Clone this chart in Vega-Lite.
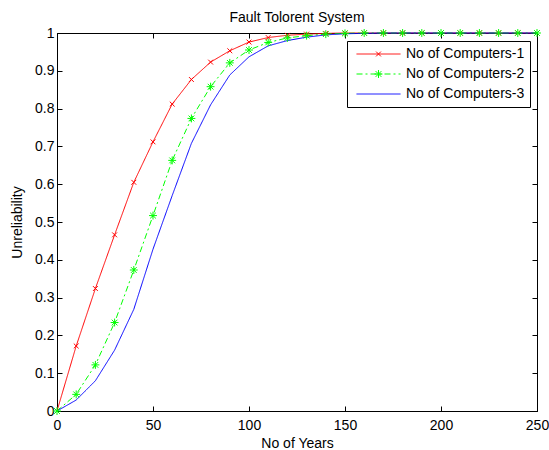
{
  "$schema": "https://vega.github.io/schema/vega-lite/v6.json",
  "width": 480,
  "height": 378,
  "autosize": {"type": "none"},
  "padding": {"left": 57, "top": 33, "right": 12, "bottom": 39},
  "background": "white",
  "config": {
    "font": "Liberation Sans",
    "view": {"stroke": "black", "strokeWidth": 1},
    "axis": {
      "grid": false,
      "domainColor": "black",
      "domainWidth": 1,
      "tickColor": "black",
      "tickWidth": 1,
      "tickSize": -5,
      "labelColor": "black",
      "labelFont": "Liberation Sans",
      "labelFontSize": 14,
      "labelFlush": false,
      "labelOverlap": false,
      "titleColor": "black",
      "titleFont": "Liberation Sans",
      "titleFontSize": 14,
      "titleFontWeight": "normal"
    }
  },
  "title": {
    "text": "Fault Tolorent System",
    "fontSize": 14,
    "fontWeight": "normal",
    "font": "Liberation Sans",
    "color": "black",
    "frame": "group",
    "offset": 1
  },
  "data": {
    "values": [
      {"year": 0, "unreliability": 0, "series": "No of Computers-1"},
      {"year": 10, "unreliability": 0.172, "series": "No of Computers-1"},
      {"year": 20, "unreliability": 0.324, "series": "No of Computers-1"},
      {"year": 30, "unreliability": 0.466, "series": "No of Computers-1"},
      {"year": 40, "unreliability": 0.605, "series": "No of Computers-1"},
      {"year": 50, "unreliability": 0.712, "series": "No of Computers-1"},
      {"year": 60, "unreliability": 0.812, "series": "No of Computers-1"},
      {"year": 70, "unreliability": 0.877, "series": "No of Computers-1"},
      {"year": 80, "unreliability": 0.923, "series": "No of Computers-1"},
      {"year": 90, "unreliability": 0.953, "series": "No of Computers-1"},
      {"year": 100, "unreliability": 0.976, "series": "No of Computers-1"},
      {"year": 110, "unreliability": 0.988, "series": "No of Computers-1"},
      {"year": 120, "unreliability": 0.994, "series": "No of Computers-1"},
      {"year": 130, "unreliability": 0.997, "series": "No of Computers-1"},
      {"year": 140, "unreliability": 0.999, "series": "No of Computers-1"},
      {"year": 150, "unreliability": 1, "series": "No of Computers-1"},
      {"year": 160, "unreliability": 1, "series": "No of Computers-1"},
      {"year": 170, "unreliability": 1, "series": "No of Computers-1"},
      {"year": 180, "unreliability": 1, "series": "No of Computers-1"},
      {"year": 190, "unreliability": 1, "series": "No of Computers-1"},
      {"year": 200, "unreliability": 1, "series": "No of Computers-1"},
      {"year": 210, "unreliability": 1, "series": "No of Computers-1"},
      {"year": 220, "unreliability": 1, "series": "No of Computers-1"},
      {"year": 230, "unreliability": 1, "series": "No of Computers-1"},
      {"year": 240, "unreliability": 1, "series": "No of Computers-1"},
      {"year": 250, "unreliability": 1, "series": "No of Computers-1"},
      {"year": 0, "unreliability": 0, "series": "No of Computers-2"},
      {"year": 10, "unreliability": 0.044, "series": "No of Computers-2"},
      {"year": 20, "unreliability": 0.122, "series": "No of Computers-2"},
      {"year": 30, "unreliability": 0.234, "series": "No of Computers-2"},
      {"year": 40, "unreliability": 0.373, "series": "No of Computers-2"},
      {"year": 50, "unreliability": 0.517, "series": "No of Computers-2"},
      {"year": 60, "unreliability": 0.663, "series": "No of Computers-2"},
      {"year": 70, "unreliability": 0.774, "series": "No of Computers-2"},
      {"year": 80, "unreliability": 0.858, "series": "No of Computers-2"},
      {"year": 90, "unreliability": 0.921, "series": "No of Computers-2"},
      {"year": 100, "unreliability": 0.955, "series": "No of Computers-2"},
      {"year": 110, "unreliability": 0.975, "series": "No of Computers-2"},
      {"year": 120, "unreliability": 0.987, "series": "No of Computers-2"},
      {"year": 130, "unreliability": 0.993, "series": "No of Computers-2"},
      {"year": 140, "unreliability": 0.997, "series": "No of Computers-2"},
      {"year": 150, "unreliability": 0.999, "series": "No of Computers-2"},
      {"year": 160, "unreliability": 1, "series": "No of Computers-2"},
      {"year": 170, "unreliability": 1, "series": "No of Computers-2"},
      {"year": 180, "unreliability": 1, "series": "No of Computers-2"},
      {"year": 190, "unreliability": 1, "series": "No of Computers-2"},
      {"year": 200, "unreliability": 1, "series": "No of Computers-2"},
      {"year": 210, "unreliability": 1, "series": "No of Computers-2"},
      {"year": 220, "unreliability": 1, "series": "No of Computers-2"},
      {"year": 230, "unreliability": 1, "series": "No of Computers-2"},
      {"year": 240, "unreliability": 1, "series": "No of Computers-2"},
      {"year": 250, "unreliability": 1, "series": "No of Computers-2"},
      {"year": 0, "unreliability": 0, "series": "No of Computers-3"},
      {"year": 10, "unreliability": 0.029, "series": "No of Computers-3"},
      {"year": 20, "unreliability": 0.080, "series": "No of Computers-3"},
      {"year": 30, "unreliability": 0.161, "series": "No of Computers-3"},
      {"year": 40, "unreliability": 0.269, "series": "No of Computers-3"},
      {"year": 50, "unreliability": 0.428, "series": "No of Computers-3"},
      {"year": 60, "unreliability": 0.570, "series": "No of Computers-3"},
      {"year": 70, "unreliability": 0.708, "series": "No of Computers-3"},
      {"year": 80, "unreliability": 0.810, "series": "No of Computers-3"},
      {"year": 90, "unreliability": 0.889, "series": "No of Computers-3"},
      {"year": 100, "unreliability": 0.937, "series": "No of Computers-3"},
      {"year": 110, "unreliability": 0.966, "series": "No of Computers-3"},
      {"year": 120, "unreliability": 0.980, "series": "No of Computers-3"},
      {"year": 130, "unreliability": 0.989, "series": "No of Computers-3"},
      {"year": 140, "unreliability": 0.995, "series": "No of Computers-3"},
      {"year": 150, "unreliability": 0.998, "series": "No of Computers-3"},
      {"year": 160, "unreliability": 0.999, "series": "No of Computers-3"},
      {"year": 170, "unreliability": 1, "series": "No of Computers-3"},
      {"year": 180, "unreliability": 1, "series": "No of Computers-3"},
      {"year": 190, "unreliability": 1, "series": "No of Computers-3"},
      {"year": 200, "unreliability": 1, "series": "No of Computers-3"},
      {"year": 210, "unreliability": 1, "series": "No of Computers-3"},
      {"year": 220, "unreliability": 1, "series": "No of Computers-3"},
      {"year": 230, "unreliability": 1, "series": "No of Computers-3"},
      {"year": 240, "unreliability": 1, "series": "No of Computers-3"},
      {"year": 250, "unreliability": 1, "series": "No of Computers-3"}
    ]
  },
  "resolve": {"axis": {"x": "independent", "y": "independent"}},
  "layer": [
    {
      "mark": {"type": "line", "strokeWidth": 1},
      "encoding": {
        "x": {
          "field": "year", "type": "quantitative",
          "scale": {"domain": [0, 250], "nice": false, "zero": false},
          "axis": {"orient": "bottom", "values": [0, 50, 100, 150, 200, 250], "labelPadding": 12, "title": "No of Years", "titlePadding": 4}
        },
        "y": {
          "field": "unreliability", "type": "quantitative",
          "scale": {"domain": [0, 1], "nice": false},
          "axis": {"orient": "left", "values": [0, 0.1, 0.2, 0.3, 0.4, 0.5, 0.6, 0.7, 0.8, 0.9, 1], "format": "~g", "labelPadding": 8, "title": "Unreliability", "titlePadding": 10}
        },
        "color": {
          "field": "series", "type": "nominal",
          "scale": {"domain": ["No of Computers-1", "No of Computers-2", "No of Computers-3"], "range": ["#ff0000", "#00ff00", "#0000ff"]},
          "legend": {
            "title": null, "orient": "none", "legendX": 290, "legendY": 8,
            "symbolType": "stroke", "symbolSize": 1936, "symbolStrokeWidth": 1,
            "clipHeight": 16, "rowPadding": 4, "padding": 5,
            "symbolOffset": 4, "labelOffset": 5,
            "labelFontSize": 14, "labelFont": "Liberation Sans", "labelColor": "black",
            "fillColor": "white", "strokeColor": "black", "labelLimit": 300
          }
        },
        "strokeDash": {
          "field": "series", "type": "nominal",
          "scale": {"domain": ["No of Computers-1", "No of Computers-2", "No of Computers-3"], "range": [[1, 0], [6, 3, 2, 3], [1, 0]]},
          "legend": {
            "title": null, "orient": "none", "legendX": 290, "legendY": 8,
            "symbolType": "stroke", "symbolSize": 1936, "symbolStrokeWidth": 1,
            "clipHeight": 16, "rowPadding": 4, "padding": 5,
            "symbolOffset": 4, "labelOffset": 5,
            "labelFontSize": 14, "labelFont": "Liberation Sans", "labelColor": "black",
            "fillColor": "white", "strokeColor": "black", "labelLimit": 300
          }
        }
      }
    },
    {
      "transform": [{"filter": "datum.series != 'No of Computers-3'"}],
      "mark": {"type": "point", "filled": false, "size": 1936, "strokeWidth": 1, "opacity": 1},
      "encoding": {
        "x": {"field": "year", "type": "quantitative", "axis": null},
        "y": {"field": "unreliability", "type": "quantitative", "axis": null},
        "color": {"field": "series", "type": "nominal", "legend": null},
        "shape": {
          "field": "series", "type": "nominal",
          "scale": {
            "domain": ["No of Computers-1", "No of Computers-2"],
            "range": ["M-0.11,-0.11L0.11,0.11M-0.11,0.11L0.11,-0.11", "M-0.18,0H0.18M0,-0.18V0.18M-0.13,-0.13L0.13,0.13M-0.13,0.13L0.13,-0.13"]
          },
          "legend": {
            "title": null, "orient": "none", "legendX": 290, "legendY": 8,
            "symbolSize": 1936, "symbolStrokeWidth": 1,
            "symbolStrokeColor": {"expr": "scale('color', datum.value)"},
            "symbolFillColor": "transparent",
            "symbolOpacity": 1,
            "clipHeight": 16, "rowPadding": 4, "padding": 5,
            "symbolOffset": 4, "labelOffset": 5,
            "labelFontSize": 14, "labelFont": "Liberation Sans", "labelOpacity": 0,
            "labelLimit": 300,
            "encode": {"symbols": {"update": {"stroke": {"signal": "scale('color', datum.value)"}, "fill": {"value": "transparent"}, "opacity": {"value": 1}}}}
          }
        }
      }
    },
    {
      "mark": {"type": "point", "opacity": 0},
      "encoding": {
        "x": {"field": "year", "type": "quantitative", "axis": {"orient": "top", "values": [0, 50, 100, 150, 200, 250], "labels": false, "title": null, "domain": false}},
        "y": {"field": "unreliability", "type": "quantitative", "axis": {"orient": "right", "values": [0, 0.1, 0.2, 0.3, 0.4, 0.5, 0.6, 0.7, 0.8, 0.9, 1], "labels": false, "title": null, "domain": false}}
      }
    }
  ]
}
